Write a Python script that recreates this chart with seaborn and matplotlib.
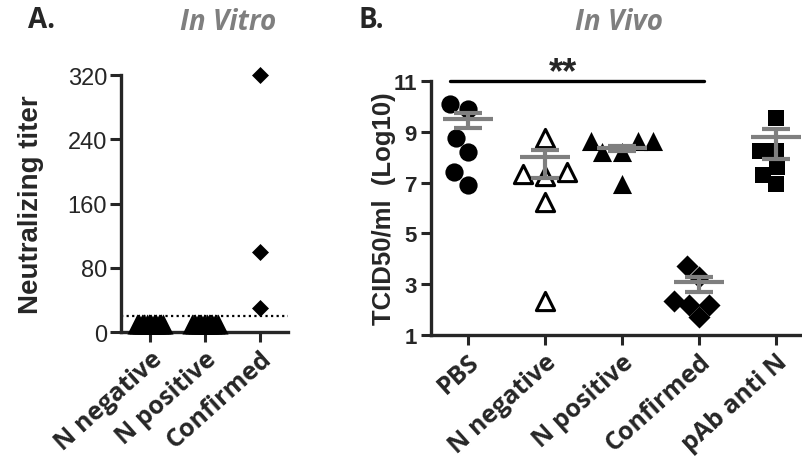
import numpy as np
import pandas as pd
import matplotlib
matplotlib.use("Agg")
import matplotlib.pyplot as plt
import seaborn as sns

# Panel A : in vitro, titre neutralisant
vitro_groups = ["N negative", "N positive", "Confirmed"]
vitro_neg = [10, 10, 10, 10, 10, 10, 10, 10, 10, 10, 10, 10]
vitro_pos = [10, 10, 10, 10, 10, 10, 10, 10, 10, 10]
vitro_conf = [320, 100, 30]
detection_limit = 20

# Panel B : in vivo, TCID50/ml (log10)
vivo_groups = ["PBS", "N negative", "N positive", "Confirmed", "pAb anti N"]
pbs = [10.1, 9.9, 8.75, 8.2, 7.4, 6.9]
n_neg = [8.75, 7.4, 7.35, 7.25, 6.25, 2.35]
n_pos = [8.65, 8.65, 8.65, 8.2, 8.2, 6.95]
confirmed = [3.7, 3.3, 2.35, 2.2, 2.2, 1.7]
pab = [9.55, 8.25, 8.25, 7.6, 7.3, 6.95]
vivo_mean = [9.5, 8.0, 8.35, 3.1, 8.8]
vivo_sem_low = [9.15, 7.2, 8.25, 2.7, 7.95]
vivo_sem_high = [9.75, 8.3, 8.45, 3.3, 9.1]

sns.set_style("ticks")
plt.rcParams["font.family"] = ["Liberation Sans", "DejaVu Sans"]
label_font = "Open Sans"
grey = "#7f7f7f"

fig = plt.figure(figsize=(8.03, 4.60), dpi=100)
axA = fig.add_axes([0.1507, 0.276, 0.208, 0.5587])
axB = fig.add_axes([0.5367, 0.2696, 0.4633, 0.552])

# ---- Panel A
vitro_data = [vitro_neg, vitro_pos, vitro_conf]
vitro_marks = ["^", "^", "D"]
vitro_sizes = [210, 210, 75]
for i, vals in enumerate(vitro_data):
    n = len(vals)
    # étaler les points identiques horizontalement (sous le seuil)
    if len(set(vals)) == 1:
        xs = i + np.linspace(-0.24, 0.24, n)
    else:
        xs = np.full(n, i, dtype=float)
    sns.scatterplot(x=xs, y=vals, ax=axA, marker=vitro_marks[i], s=vitro_sizes[i],
                    color="black", linewidth=0, clip_on=False, zorder=3)

axA.axhline(detection_limit, color="black", ls=(0, (1, 1.5)), lw=1.6, zorder=2)
axA.set_xlim(-0.53, 2.51)
axA.set_ylim(0, 320)
axA.set_yticks([0, 80, 160, 240, 320])
axA.set_xticks(range(len(vitro_groups)))
axA.set_xticklabels(vitro_groups, rotation=42, ha="right", rotation_mode="anchor",
                    fontfamily=label_font, fontweight="bold", fontsize=18)
axA.tick_params(axis="y", labelsize=17, width=2.2, length=8, pad=2)
axA.tick_params(axis="x", width=2.2, length=7, pad=3)
axA.set_ylabel("Neutralizing titer", fontsize=20, fontweight="bold")
axA.yaxis.set_label_coords(-0.46, 0.5)
sns.despine(ax=axA)
for sp in ["left", "bottom"]:
    axA.spines[sp].set_linewidth(2.4)

# ---- Panel B
df = pd.DataFrame({
    "group": np.repeat(vivo_groups, 6),
    "val": pbs + n_neg + n_pos + confirmed + pab,
})
vivo_marks = ["o", "^", "^", "D", "s"]
vivo_face = ["black", "white", "black", "black", "black"]
vivo_edge = [0, 2.2, 0, 0, 0]
vivo_sizes = [10.5, 10.5, 11, 9, 11]
for i, g in enumerate(vivo_groups):
    # swarm calculé avec des marqueurs un peu plus gros pour espacer les points
    sns.swarmplot(data=df[df["group"] == g], x="group", y="val", order=vivo_groups,
                  ax=axB, marker=vivo_marks[i], color=vivo_face[i], edgecolor="black",
                  linewidth=vivo_edge[i], size=vivo_sizes[i] * 1.25, zorder=3)
    axB.collections[-1].set_sizes([vivo_sizes[i] ** 2])

for i in range(len(vivo_groups)):
    axB.hlines(vivo_mean[i], i - 0.33, i + 0.33, color=grey, lw=3, zorder=4)
    axB.vlines(i, vivo_sem_low[i], vivo_sem_high[i], color=grey, lw=3, zorder=4)
    axB.hlines([vivo_sem_low[i], vivo_sem_high[i]], i - 0.18, i + 0.18, color=grey, lw=3, zorder=4)

axB.plot([-0.23, 3.06], [11, 11], color="black", lw=2.4, clip_on=False)
axB.text(1.23, 11.35, "**", ha="center", va="center", fontsize=26, fontweight="bold")

axB.set_xlim(-0.48, 4.35)
axB.set_ylim(1, 11)
axB.set_yticks([1, 3, 5, 7, 9, 11])
axB.set_xlabel("")
axB.set_ylabel("TCID50/ml  (Log10)", fontsize=18.5, fontweight="bold")
axB.yaxis.set_label_coords(-0.095, 0.5)
axB.set_xticks(range(len(vivo_groups)))
axB.set_xticklabels(vivo_groups, rotation=42, ha="right", rotation_mode="anchor",
                    fontfamily=label_font, fontweight="bold", fontsize=18)
for lab in axB.get_yticklabels():
    lab.set_fontweight("bold")
axB.tick_params(axis="y", labelsize=16, width=2.2, length=7, pad=3)
axB.tick_params(axis="x", width=2.2, length=7, pad=3)
sns.despine(ax=axB)
for sp in ["left", "bottom"]:
    axB.spines[sp].set_linewidth(2.4)

# titres des panneaux
fig.text(0.052, 0.955, "A.", fontsize=20, fontweight="bold", ha="center", va="center",
         fontfamily=label_font)
fig.text(0.284, 0.95, "In Vitro", fontsize=20, fontweight="bold", style="italic",
         color=grey, ha="center", va="center", fontfamily=label_font)
fig.text(0.463, 0.955, "B.", fontsize=20, fontweight="bold", ha="center", va="center",
         fontfamily=label_font)
fig.text(0.771, 0.95, "In Vivo", fontsize=20, fontweight="bold", style="italic",
         color=grey, ha="center", va="center", fontfamily=label_font)

fig.savefig("out.png", dpi=100)
